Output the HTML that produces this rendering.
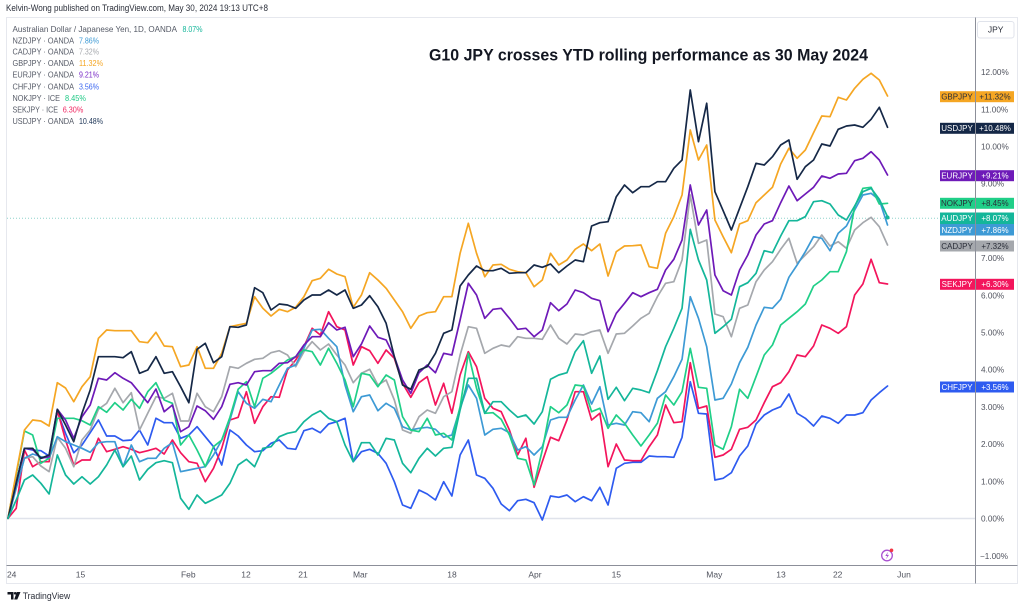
<!DOCTYPE html>
<html><head><meta charset="utf-8"><style>
html,body{margin:0;padding:0;background:#fff;}
svg{display:block;font-family:"Liberation Sans",sans-serif;}
</style></head><body>
<svg width="1024" height="608" viewBox="0 0 1024 608" xmlns="http://www.w3.org/2000/svg">
<rect x="0" y="0" width="1024" height="608" fill="#fff"/>
<text x="6" y="11" font-size="8.8" fill="#2a2e39" textLength="262" lengthAdjust="spacingAndGlyphs">Kelvin-Wong published on TradingView.com, May 30, 2024 19:13 UTC+8</text>
<rect x="6.5" y="17.5" width="1011" height="566" fill="none" stroke="#e6e8ee" stroke-width="1"/>
<line x1="7" y1="518.5" x2="975" y2="518.5" stroke="#e0e3eb" stroke-width="1.5"/>
<line x1="7" y1="218.3" x2="975" y2="218.3" stroke="#8fd3cb" stroke-width="1" stroke-dasharray="1,2"/>
<text x="429" y="60.5" font-size="17" font-weight="bold" fill="#131722" textLength="439" lengthAdjust="spacingAndGlyphs">G10 JPY crosses YTD rolling performance as 30 May 2024</text>
<g font-size="8.5" fill="#555a66">
<text x="12.5" y="32" textLength="164.5" lengthAdjust="spacingAndGlyphs">Australian Dollar / Japanese Yen, 1D, OANDA</text>
<text x="182.5" y="32" fill="#14b69a" textLength="20" lengthAdjust="spacingAndGlyphs">8.07%</text>
<text x="12.5" y="43.3" textLength="61.5" lengthAdjust="spacingAndGlyphs">NZDJPY · OANDA</text>
<text x="79" y="43.3" fill="#3d9ad5" textLength="20" lengthAdjust="spacingAndGlyphs">7.86%</text>
<text x="12.5" y="54.7" textLength="61.5" lengthAdjust="spacingAndGlyphs">CADJPY · OANDA</text>
<text x="79" y="54.7" fill="#a5a8ad" textLength="20" lengthAdjust="spacingAndGlyphs">7.32%</text>
<text x="12.5" y="66" textLength="61.5" lengthAdjust="spacingAndGlyphs">GBPJPY · OANDA</text>
<text x="79" y="66" fill="#f5a623" textLength="24" lengthAdjust="spacingAndGlyphs">11.32%</text>
<text x="12.5" y="77.7" textLength="61.5" lengthAdjust="spacingAndGlyphs">EURJPY · OANDA</text>
<text x="79" y="77.7" fill="#7a2bc6" textLength="20" lengthAdjust="spacingAndGlyphs">9.21%</text>
<text x="12.5" y="89.3" textLength="61.5" lengthAdjust="spacingAndGlyphs">CHFJPY · OANDA</text>
<text x="79" y="89.3" fill="#3a66f0" textLength="20" lengthAdjust="spacingAndGlyphs">3.56%</text>
<text x="12.5" y="101" textLength="47.5" lengthAdjust="spacingAndGlyphs">NOKJPY · ICE</text>
<text x="65" y="101" fill="#1ec985" textLength="21" lengthAdjust="spacingAndGlyphs">8.45%</text>
<text x="12.5" y="112.3" textLength="45.5" lengthAdjust="spacingAndGlyphs">SEKJPY · ICE</text>
<text x="62.7" y="112.3" fill="#f0245f" textLength="20.6" lengthAdjust="spacingAndGlyphs">6.30%</text>
<text x="12.5" y="124" textLength="61.5" lengthAdjust="spacingAndGlyphs">USDJPY · OANDA</text>
<text x="79" y="124" fill="#1d3557" textLength="24" lengthAdjust="spacingAndGlyphs">10.48%</text>
</g>
<g transform="translate(8,0) scale(8.22,1)" fill="none" stroke-width="1.7" stroke-linejoin="round" stroke-linecap="round">
<polyline vector-effect="non-scaling-stroke" stroke="#2e5bf0" points="0,518.3 1,483 2,448.3 3,450 4,450.7 5,456 6,411.7 7,433.3 8,452.7 9,445 10,432.7 11,420 12,436 13,436 14,440.7 15,440 16,430 17,445 18,418.3 19,422.7 20,422.7 21,438.3 22,435 23,426.7 24,436.7 25,446.7 26,465 27,430 28,436 29,445 30,451.7 31,450.7 32,443.3 33,440 34,448.3 35,449.3 36,430.7 37,428.3 38,432.7 39,424 40,421.7 41,418.3 42,461.7 43,451.7 44,449.3 45,453.3 46,463.3 47,481.7 48,505 49,508.3 50,490 51,494 52,500 53,481.7 54,496 55,455 56,440 57,475 58,478.3 59,488.3 60,504 61,510.7 62,500.7 63,499.3 64,502.7 65,520 66,496 67,497.3 68,495 69,501.7 70,496.7 71,500.7 72,487.3 73,505 74,468.3 75,463.3 76,462.3 77,462.3 78,456 79,456.7 80,456.7 81,457.3 82,437.3 83,381.7 84,413.3 85,414 86,480 87,478.3 88,472.7 89,456 90,446 91,424 92,415 93,410 94,406.7 95,394 96,413.3 97,418.3 98,426 99,416 100,418.3 101,423.3 102,415 103,415 104,412.7 105,400 106,392.7 107,386"/>
<polyline vector-effect="non-scaling-stroke" stroke="#f3155c" points="0,518.3 1,508.3 2,450 3,466.7 4,461.7 5,461.7 6,410 7,440 8,465 9,460 10,460 11,438.3 12,451.7 13,449.3 14,446.7 15,449.3 16,452.7 17,450.7 18,448.3 19,454 20,440 21,452.7 22,461.7 23,463.3 24,481.7 25,468.3 26,448.3 27,420 28,417.3 29,391.7 30,423.3 31,406.7 32,396.7 33,397.3 34,370 35,360 36,346.7 37,328.3 38,335 39,311.7 40,326.7 41,330 42,365 43,346.7 44,350.7 45,363.3 46,350 47,358.3 48,383.3 49,397.3 50,382.7 51,376.7 52,405 53,383.3 54,413.3 55,375 56,351.7 57,366.7 58,398.3 59,408.3 60,411.7 61,430 62,455 63,438.3 64,487.3 65,461.7 66,437.3 67,440.7 68,420 69,391.7 70,391.7 71,420 72,413.3 73,466.7 74,444 75,460 76,460.7 77,460.7 78,446.7 79,435 80,405 81,422.7 82,421.7 83,362.7 84,408.3 85,406 86,457.3 87,455 88,449.3 89,429.3 90,427.3 91,420 92,402.7 93,386.7 94,382.7 95,371.7 96,355 97,356.7 98,346 99,325 100,328.3 101,333.3 102,326.7 103,295 104,284 105,259.3 106,282.7 107,284"/>
<polyline vector-effect="non-scaling-stroke" stroke="#a5a8ad" points="0,518.3 1,488 2,458.3 3,456.7 4,466 5,471.7 6,437.3 7,448.3 8,466.7 9,440 10,430 11,409.3 12,403.3 13,388.3 14,402.7 15,392.7 16,430 17,413.3 18,396.7 19,398.3 20,393.3 21,421 22,421 23,393.3 24,406.7 25,411.7 26,396.7 27,366.7 28,368.3 29,363.3 30,359.3 31,358.3 32,352.7 33,350.7 34,355 35,366.7 36,351.7 37,341.7 38,350 39,344 40,355 41,365 42,382.7 43,373.3 44,369.3 45,385 46,380 47,400 48,430 49,433.3 50,416.7 51,410 52,413.3 53,396.7 54,391.7 55,355 56,326.7 57,328.3 58,353.3 59,348.3 60,345 61,346.7 62,336.7 63,338.3 64,338.3 65,339.3 66,325 67,338.3 68,344 69,334 70,335 71,331.7 72,330 73,353.3 74,334 75,333.3 76,326 77,318.3 78,313.3 79,296.7 80,283.3 81,281.7 82,260 83,195 84,243.3 85,240 86,314 87,316.7 88,336.7 89,308.3 90,305 91,281.7 92,270 93,261.7 94,249.3 95,238.3 96,263.3 97,255 98,246.7 99,235 100,246 101,241.7 102,248.3 103,230 104,222.7 105,217.3 106,226.7 107,245"/>
<polyline vector-effect="non-scaling-stroke" stroke="#3d9ad5" points="0,518.3 1,488 2,458.3 3,454 4,456.7 5,458.3 6,436.7 7,441.7 8,445 9,448.3 10,452.3 11,442.7 12,441.7 13,441.7 14,466.7 15,445 16,461.7 17,458.3 18,458.3 19,448.3 20,442.7 21,471.7 22,470 23,468.3 24,466.7 25,455 26,440 27,420 28,391.7 29,403.3 30,408.3 31,399.3 32,401.7 33,385 34,368.3 35,365 36,348.3 37,330 38,329.3 39,338.3 40,346.7 41,385 42,411.7 43,396.7 44,395 45,410.7 46,403.3 47,408.3 48,426.7 49,430 50,428.3 51,427.3 52,429.3 53,437.3 54,435 55,408.3 56,385 57,398.3 58,435 59,429.3 60,428.3 61,432.7 62,450 63,446.7 64,455 65,446.7 66,420 67,417.3 68,417.3 69,400 70,385 71,404 72,386.7 73,425 74,423.3 75,425 76,411.7 77,412.7 78,421.7 79,398.3 80,391.7 81,376.7 82,359.3 83,296.7 84,318.3 85,346.7 86,400 87,398.3 88,384 89,362.7 90,347.3 91,325 92,307.3 93,308.3 94,299.3 95,277.3 96,265 97,251.7 98,236.7 99,238.3 100,250.7 101,233.3 102,226 103,210 104,195 105,193.3 106,200 107,225"/>
<polyline vector-effect="non-scaling-stroke" stroke="#20cf88" points="0,518.3 1,475 2,431 3,435 4,463.3 5,458.3 6,418.3 7,418.3 8,418.3 9,420.7 10,425 11,406.7 12,412.3 13,402.7 14,410 15,399.3 16,408.3 17,391.7 18,382.7 19,400 20,403.3 21,445 22,435 23,450 24,466.7 25,446.7 26,440 27,417.3 28,389.3 29,381.7 30,406.7 31,378.3 32,373.3 33,366.7 34,360 35,356.7 36,350 37,351.7 38,365 39,348.3 40,363.3 41,380 42,406.7 43,373.3 44,375 45,386.7 46,375 47,380 48,416.7 49,430 50,431.7 51,418.3 52,435 53,433.3 54,440 55,406.7 56,353.3 57,388.3 58,413.3 59,412.7 60,419.3 61,435 62,458.3 63,460 64,485 65,450 66,406.7 67,412.7 68,405 69,385 70,386 71,411.7 72,408.3 73,428.3 74,415 75,423.3 76,435 77,446 78,435 79,423.3 80,395 81,405 82,391.7 83,348.3 84,387.3 85,388.3 86,445 87,449.3 88,426.7 89,389.3 90,398.3 91,376.7 92,355 93,345 94,325 95,318.3 96,311.7 97,304 98,286 99,280 100,271.7 101,271.7 102,251.7 103,206.7 104,188.3 105,187.3 106,204 107,203.3"/>
<polyline vector-effect="non-scaling-stroke" stroke="#6e1ab8" points="0,518.3 1,483 2,448.3 3,449.3 4,458.3 5,456.7 6,409.3 7,420 8,438.3 9,416.7 10,405 11,378.3 12,380 13,372.7 14,378.3 15,382.7 16,392.7 17,402.7 18,389 19,411.7 20,405 21,431.7 22,426.7 23,406 24,410.7 25,419.3 26,406.7 27,384.3 28,382.7 29,385 30,371.7 31,370.7 32,370.7 33,363.3 34,362.7 35,356.7 36,345 37,336.7 38,336.7 39,322.7 40,330 41,327.3 42,356.7 43,344 44,326 45,337.3 46,340 47,356.7 48,380 49,393.3 50,372.7 51,365 52,372.7 53,353.3 54,355 55,320 56,283.3 57,295 58,318.3 59,309.3 60,308.3 61,318.3 62,329.3 63,328.3 64,336.7 65,330 66,302.7 67,310.7 68,304 69,290 70,292.7 71,298.3 72,300.7 73,331.7 74,313.3 75,303.3 76,292.7 77,296.7 78,292.7 79,289.3 80,270 81,259.3 82,240 83,185 84,225 85,210 86,275 87,290.7 88,295 89,270 90,255 91,235 92,224 93,220.7 94,202.7 95,186 96,200.7 97,194 98,187.3 99,176 100,178.3 101,174 102,173.3 103,160.7 104,158.3 105,151.7 106,160 107,175"/>
<polyline vector-effect="non-scaling-stroke" stroke="#f5a623" points="0,518.3 1,473 2,430 3,420 4,421 5,426 6,382.7 7,388 8,401.7 9,386.7 10,376.7 11,338.3 12,330 13,330.7 14,330.7 15,330.7 16,341.7 17,342.7 18,332.3 19,346 20,346.7 21,366.7 22,365 23,346.7 24,368.3 25,368.3 26,353.3 27,326.7 28,325 29,323.3 30,296.7 31,308.3 32,316 33,309.3 34,311.7 35,307.3 36,296.7 37,280.7 38,278.3 39,269.3 40,274 41,276.7 42,307.3 43,295 44,272.7 45,280 46,288.3 47,300 48,311.7 49,328.3 50,316 51,312.7 52,311.7 53,296.7 54,296.7 55,253.3 56,223.3 57,253.3 58,276.7 59,265 60,264.3 61,269.3 62,271.7 63,272.7 64,286.7 65,280 66,253.3 67,265 68,260 69,249.3 70,244 71,250.7 72,244 73,276 74,251.7 75,246 76,245.7 77,245 78,266.7 79,268.3 80,233.3 81,216.7 82,195 83,130 84,160 85,145 86,220 87,236.7 88,252.7 89,224 90,220.7 91,202.7 92,195 93,187.3 94,164 95,148.3 96,158.3 97,150 98,132.7 99,116 100,116.7 101,97.3 102,100 103,88.3 104,79.3 105,73.3 106,80 107,96"/>
<polyline vector-effect="non-scaling-stroke" stroke="#152847" points="0,518.3 1,483 2,448.3 3,448.3 4,458.3 5,455 6,409.3 7,425 8,441.7 9,413.3 10,390 11,356.7 12,356.7 13,356.7 14,357.7 15,351.7 16,373.3 17,370 18,356.7 19,373.3 20,371.7 21,386.7 22,402.7 23,349.3 24,343.3 25,362.7 26,356.7 27,326.7 28,327.3 29,325 30,287.7 31,292.7 32,310 33,304 34,305 35,308.3 36,300 37,295 38,295 39,290 40,295 41,290 42,308.3 43,305 44,295.7 45,306.7 46,323.3 47,356.7 48,385 49,389.3 50,370 51,366.7 52,353.3 53,333.3 54,330 55,286 56,275 57,266 58,270.7 59,270.7 60,268.3 61,273.3 62,272.7 63,272.7 64,265 65,267.3 66,264 67,272.7 68,266 69,260 70,261.7 71,226 72,222.7 73,221.7 74,196.7 75,185 76,192.7 77,186.7 78,186.7 79,181.7 80,181.7 81,168.3 82,160 83,90 84,141.7 85,103.3 86,191.7 87,210.7 88,230 89,208.3 90,186.7 91,163.3 92,165 93,156.7 94,145 95,140 96,179.3 97,166.7 98,160 99,144 100,146 101,129.3 102,126 103,125 104,127.3 105,119.3 106,107.3 107,127.3"/>
<polyline vector-effect="non-scaling-stroke" stroke="#14b69a" points="0,518.3 1,500 2,480 3,475 4,483.3 5,494 6,455 7,475 8,484 9,476.7 10,484 11,476.7 12,465 13,450 14,466.7 15,456 16,480 17,469.3 18,462.7 19,460.7 20,462.7 21,498.3 22,509.3 23,495 24,503.3 25,499.3 26,495 27,483.3 28,465 29,459.3 30,466.7 31,448.3 32,446.7 33,436.7 34,433.3 35,431.7 36,421.7 37,415 38,410.7 39,418.3 40,421.7 41,445 42,461.7 43,442.7 44,442.7 45,455 46,438.3 47,440 48,463.3 49,472.7 50,458.3 51,448.3 52,456 53,448.3 54,447.3 55,410 56,378.3 57,378.3 58,413.3 59,401.7 60,401.7 61,410 62,417.3 63,415 64,424 65,411.7 66,379.3 67,375 68,372.7 69,351.7 70,340.7 71,373.3 72,356 73,399.3 74,387.3 75,400.7 76,388.3 77,390 78,392.7 79,370.7 80,346.7 81,328.3 82,308.3 83,229.3 84,260 85,280 86,333.3 87,326.7 88,319.3 89,286.7 90,282.7 91,273.3 92,250.7 93,252.7 94,236 95,220.7 96,220.7 97,216.7 98,201.7 99,200.7 100,204 101,215 102,220 103,206 104,191.7 105,188.3 106,199.3 107,216.7"/>
</g>
<circle cx="887.5" cy="217.5" r="2" fill="#14b69a"/>
<g font-size="8.2" fill="#50535e">
<text x="981" y="75">12.00%</text>
<text x="981" y="112.3">11.00%</text>
<text x="981" y="149.5">10.00%</text>
<text x="981" y="186.7">9.00%</text>
<text x="981" y="261">7.00%</text>
<text x="981" y="298.3">6.00%</text>
<text x="981" y="335.5">5.00%</text>
<text x="981" y="372.7">4.00%</text>
<text x="981" y="410">3.00%</text>
<text x="981" y="447.2">2.00%</text>
<text x="981" y="484.5">1.00%</text>
<text x="981" y="521.7">0.00%</text>
<text x="980" y="559">−1.00%</text>
</g>
<g font-size="8" text-anchor="middle">
<rect x="940" y="91.2" width="74" height="11" fill="#f5a623"/>
<text x="957" y="99.6" fill="#2a2e39">GBPJPY</text><text x="995" y="99.6" fill="#2a2e39">+11.32%</text>
<rect x="940" y="122.8" width="74" height="11" fill="#152847"/>
<text x="957" y="131.2" fill="#fff">USDJPY</text><text x="995" y="131.2" fill="#fff">+10.48%</text>
<rect x="940" y="170.2" width="74" height="11" fill="#6e1ab8"/>
<text x="957" y="178.6" fill="#fff">EURJPY</text><text x="995" y="178.6" fill="#fff">+9.21%</text>
<rect x="940" y="197.8" width="74" height="11" fill="#20cf88"/>
<text x="957" y="206.2" fill="#2a2e39">NOKJPY</text><text x="995" y="206.2" fill="#2a2e39">+8.45%</text>
<rect x="940" y="212.5" width="74" height="11.5" fill="#14b69a"/>
<text x="957" y="220.9" fill="#fff">AUDJPY</text><text x="995" y="220.9" fill="#fff">+8.07%</text>
<rect x="940" y="224" width="74" height="11.5" fill="#3d9ad5"/>
<text x="957" y="232.9" fill="#fff">NZDJPY</text><text x="995" y="232.9" fill="#fff">+7.86%</text>
<rect x="940" y="240.5" width="74" height="11" fill="#a5a8ad"/>
<text x="957" y="248.9" fill="#2a2e39">CADJPY</text><text x="995" y="248.9" fill="#2a2e39">+7.32%</text>
<rect x="940" y="278.8" width="74" height="11" fill="#f3155c"/>
<text x="957" y="287.2" fill="#fff">SEKJPY</text><text x="995" y="287.2" fill="#fff">+6.30%</text>
<rect x="940" y="381.5" width="74" height="11" fill="#2e5bf0"/>
<text x="957" y="389.9" fill="#fff">CHFJPY</text><text x="995" y="389.9" fill="#fff">+3.56%</text>
</g>
<line x1="975.5" y1="17.5" x2="975.5" y2="583.5" stroke="#8c8f99" stroke-width="1"/>
<line x1="6.5" y1="565.5" x2="1017.5" y2="565.5" stroke="#8c8f99" stroke-width="1"/>
<rect x="977.5" y="21.5" width="36.5" height="16.5" rx="2.5" fill="#fff" stroke="#e0e3eb"/>
<text x="995.7" y="32.7" font-size="8.5" fill="#2a2e39" text-anchor="middle">JPY</text>
<g font-size="8.5" fill="#50535e" text-anchor="middle">
<text x="11.7" y="577.3">24</text>
<text x="80.5" y="577.3">15</text>
<text x="188.3" y="577.3">Feb</text>
<text x="246" y="577.3">12</text>
<text x="303" y="577.3">21</text>
<text x="360.3" y="577.3">Mar</text>
<text x="452" y="577.3">18</text>
<text x="535" y="577.3">Apr</text>
<text x="616.3" y="577.3">15</text>
<text x="714.3" y="577.3">May</text>
<text x="781" y="577.3">13</text>
<text x="837.7" y="577.3">22</text>
<text x="904" y="577.3">Jun</text>
</g>
<circle cx="887" cy="555.5" r="5.3" fill="#fff" stroke="#a84fd0" stroke-width="1.3"/>
<path d="M888.2,551.6 L885.3,556 L887.3,556 L885.9,559.4 L889,554.9 L887,554.9 Z" fill="#a84fd0"/>
<circle cx="891.5" cy="550.3" r="1.8" fill="#f23645"/>
<g fill="#131722">
<path d="M7.5,592 H13.5 V599.5 H11 V594.5 H7.5 Z"/>
<circle cx="15.2" cy="593.3" r="1.3"/>
<path d="M16.8,592 H20.5 L17.3,599.5 H14.2 Z"/>
</g>
<text x="22.7" y="599" font-size="9.2" fill="#2a2e39" textLength="47.5" lengthAdjust="spacingAndGlyphs">TradingView</text>
</svg>
</body></html>
